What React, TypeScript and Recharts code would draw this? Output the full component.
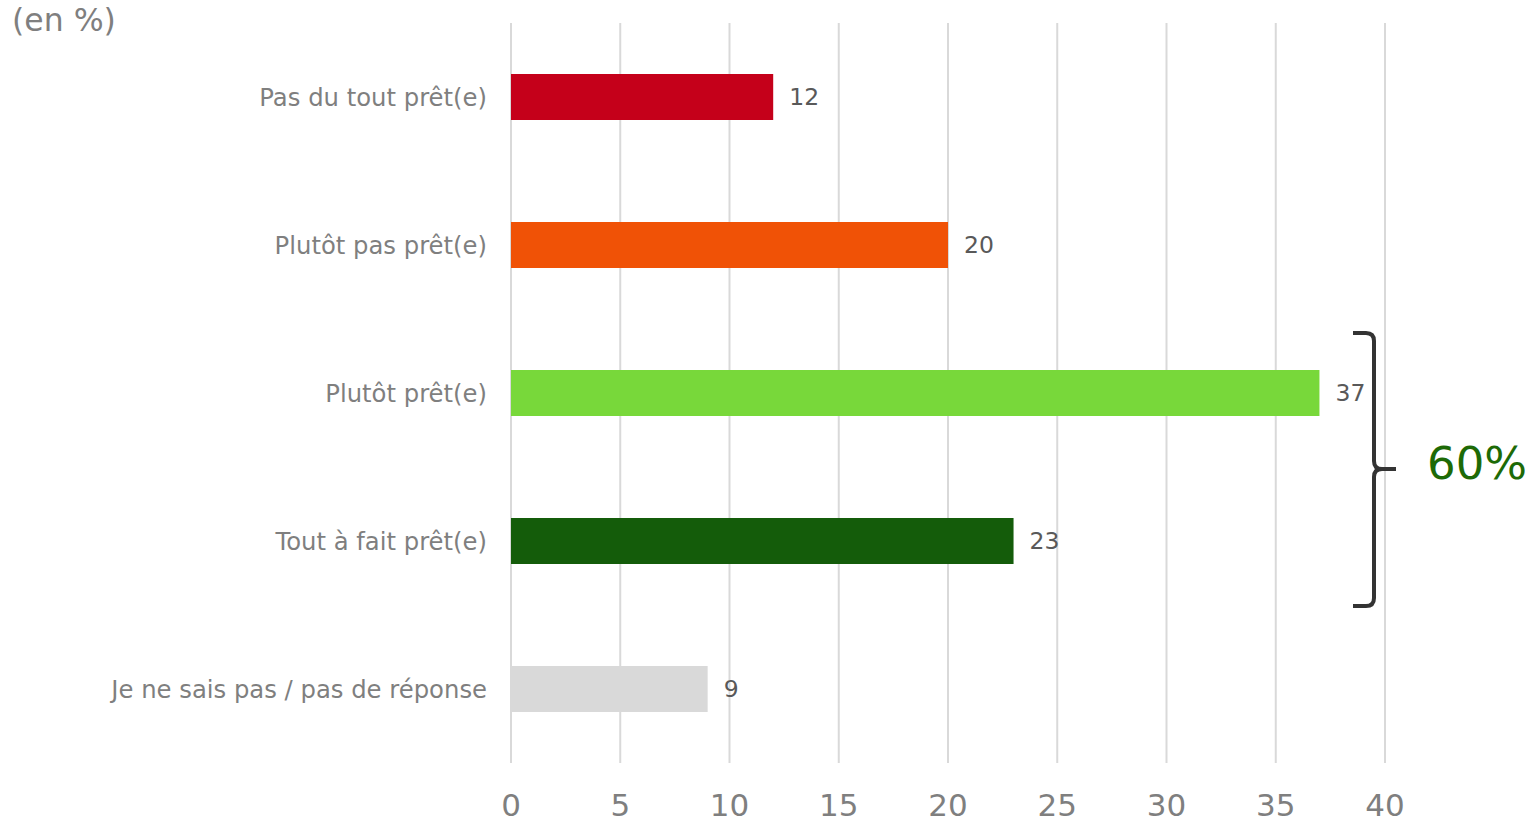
import React from 'react';
import { BarChart, Bar, XAxis, YAxis, CartesianGrid, Cell, LabelList } from 'recharts';

const categories = [
  'Pas du tout prêt(e)',
  'Plutôt pas prêt(e)',
  'Plutôt prêt(e)',
  'Tout à fait prêt(e)',
  'Je ne sais pas / pas de réponse',
];
const values = [12, 20, 37, 23, 9];
const barColors = ['#C5001A', '#F05206', '#78D83A', '#145C0A', '#D9D9D9'];
const xTicks = [0, 5, 10, 15, 20, 25, 30, 35, 40];

const FONT = '"DejaVu Sans", Verdana, sans-serif';

const data = categories.map((name, i) => ({ name, value: values[i] }));

const XTick = (props: any) => {
  const { x, y, payload } = props;
  return (
    <text x={x} y={y + 40} textAnchor="middle" dominantBaseline="central"
      fontFamily={FONT} fontSize={31} fill="#7F7F7F">
      {payload.value}
    </text>
  );
};

const YTick = (props: any) => {
  const { x, y, payload } = props;
  return (
    <text x={x} y={y} textAnchor="end" dominantBaseline="central"
      fontFamily={FONT} fontSize={24.3} fill="#7F7F7F">
      {payload.value}
    </text>
  );
};

export default function App() {
  return (
    <div style={{ position: 'absolute', left: 0, top: 0, width: 1527, height: 823, background: '#fff' }}>
      <BarChart
        width={1527}
        height={823}
        data={data}
        layout="vertical"
        margin={{ top: 23, right: 142, bottom: 0, left: 0 }}
      >
        <CartesianGrid horizontal={false} vertical stroke="#D9D9D9" strokeWidth={2} />
        <XAxis
          type="number"
          domain={[0, 40]}
          ticks={xTicks}
          axisLine={false}
          tickLine={false}
          tickSize={0}
          height={60}
          tick={<XTick />}
          interval={0}
        />
        <YAxis
          type="category"
          dataKey="name"
          width={511}
          axisLine={false}
          tickLine={false}
          tickSize={0}
          tickMargin={24}
          tick={<YTick />}
          interval={0}
        />
        <Bar dataKey="value" barSize={46} isAnimationActive={false}>
          {data.map((d, i) => (
            <Cell key={d.name} fill={barColors[i]} />
          ))}
          <LabelList dataKey="value" position="right" offset={16}
            style={{ fontFamily: FONT, fontSize: 23.5, fill: '#595959' }} />
        </Bar>
      </BarChart>
      <svg width={1527} height={823} style={{ position: 'absolute', left: 0, top: 0, pointerEvents: 'none' }}>
        <text x={12} y={20} dominantBaseline="central" fontFamily={FONT} fontSize={31.5} fill="#7F7F7F">(en %)</text>
        <path
          d="M1353,333 L1366,333 Q1374,333 1374,341 L1374,461 Q1374,469 1382,469 L1396,469 M1382,469 Q1374,469 1374,477 L1374,598 Q1374,606 1366,606 L1353,606"
          fill="none" stroke="#333333" strokeWidth={4} />
        <text x={1427} y={463} dominantBaseline="central" fontFamily={FONT} fontSize={45} fill="#1D6A06">60%</text>
      </svg>
    </div>
  );
}
